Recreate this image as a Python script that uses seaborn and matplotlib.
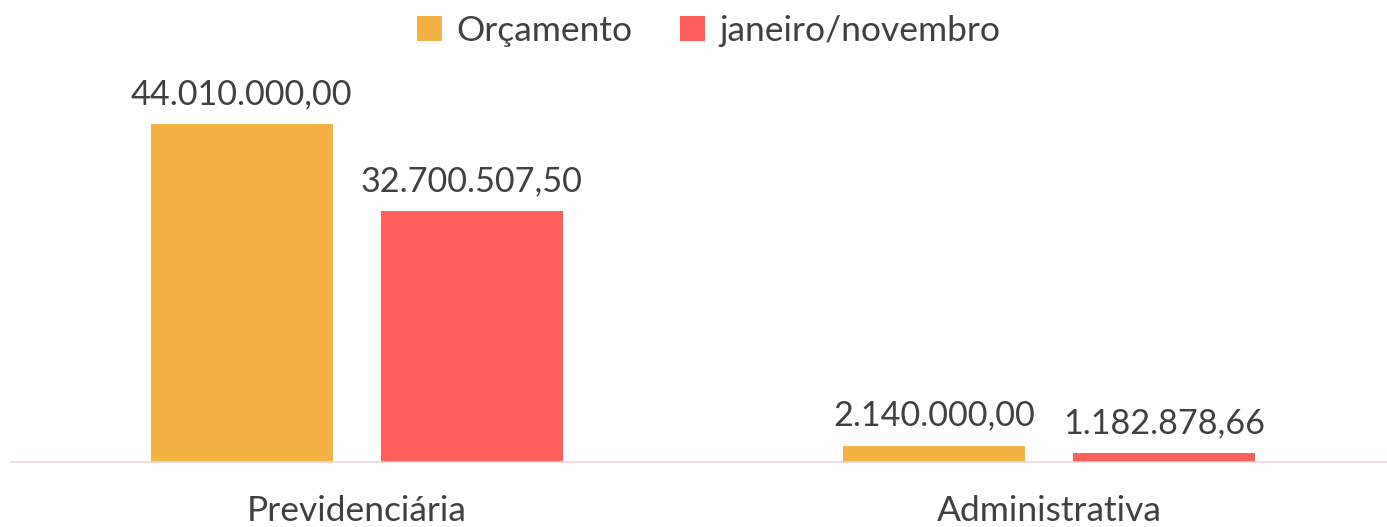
import pandas as pd
import seaborn as sns
import matplotlib
matplotlib.use('Agg')
from matplotlib import pyplot as plt

categories = ['Previdenciária', 'Administrativa']
series = ['Orçamento', 'janeiro/novembro']
orcamento = [44010000.00, 2140000.00]
jan_nov = [32700507.50, 1182878.66]
labels_orc = ['44.010.000,00', '2.140.000,00']
labels_jan = ['32.700.507,50', '1.182.878,66']

df = pd.DataFrame({
    'categoria': categories * 2,
    'serie': [series[0]] * 2 + [series[1]] * 2,
    'valor': orcamento + jan_nov,
    'rotulo': labels_orc + labels_jan,
})

sns.set_style('white')
plt.rcParams['font.family'] = ['Lato', 'DejaVu Sans']
text_color = '#404040'
palette = ['#F5B244', '#FF5F5B']

fig = plt.figure(figsize=(13.87, 5.27), dpi=100)
ax = fig.add_axes([10.5 / 1387, 0.1233, 1385 / 1387, 0.725])
sns.barplot(data=df, x='categoria', y='valor', hue='serie', palette=palette,
            width=0.665, gap=0.21, saturation=1, linewidth=0, ax=ax, legend=True)

ax.set_xlim(-0.5, 1.5)
ax.set_ylim(0, 49.74e6)
for s in ['top', 'right', 'left']:
    ax.spines[s].set_visible(False)
ax.spines['bottom'].set_color('#f0d4d8')
ax.spines['bottom'].set_linewidth(1.2)
ax.set_yticks([])
ax.set_xlabel('')
ax.set_ylabel('')
ax.tick_params(axis='x', length=0, pad=24, labelsize=25.5, labelcolor=text_color)

# value labels
for cont, labs in zip(ax.containers, [labels_orc, labels_jan]):
    ax.bar_label(cont, labels=labs, padding=10, fontsize=24.6, color=text_color)

h, l = ax.get_legend_handles_labels()
ax.legend(h, l, loc='center', bbox_to_anchor=(0.511, 1 - 31 / 527),
          bbox_transform=fig.transFigure, ncol=2, frameon=False,
          fontsize=25.5, handlelength=0.7, handleheight=0.7, handletextpad=0.4,
          columnspacing=1.35, labelcolor=text_color)

fig.savefig('out.png', dpi=100)
